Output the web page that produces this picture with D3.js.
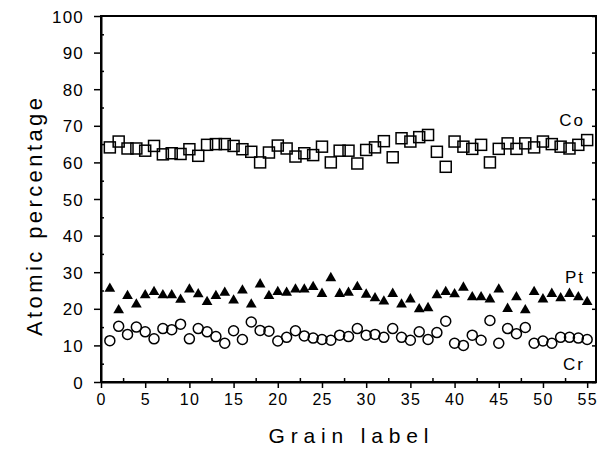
<!DOCTYPE html>
<html>
<head>
<meta charset="utf-8">
<script src="https://cdn.jsdelivr.net/npm/d3@7"></script>
<style>
  body { margin: 0; background: #fff; }
  svg { display: block; font-family: "Liberation Sans", Arial, sans-serif; }
</style>
</head>
<body>
<svg id="chart" width="608" height="451"></svg>
<script>
// grain labels 1..55
var grains = d3.range(1, 56);

// atomic percentages
var co = [64.1, 65.7, 63.8, 63.8, 63.2, 64.5, 62.2, 62.5, 62.3, 63.6,
          61.8, 64.8, 65.0, 65.0, 64.5, 63.6, 62.9, 60.0, 62.7, 64.6,
          63.8, 61.6, 62.5, 62.0, 64.3, 60.0, 63.2, 63.2, 59.7, 63.4,
          64.1, 65.8, 61.4, 66.6, 65.7, 66.9, 67.5, 62.9, 58.8, 65.7,
          64.3, 63.7, 64.8, 60.0, 63.7, 65.2, 63.7, 65.2, 64.1, 65.7,
          65.0, 64.3, 63.8, 64.8, 66.1];
var pt = [25.5, 19.6, 23.5, 21.2, 23.7, 24.6, 23.7, 23.7, 22.5, 25.3,
          24.0, 21.9, 23.5, 24.4, 22.3, 25.0, 21.2, 26.7, 23.5, 24.6,
          24.4, 25.3, 25.3, 26.0, 24.1, 28.4, 24.1, 24.4, 26.0, 23.9,
          22.9, 22.0, 24.1, 21.2, 22.6, 19.9, 20.2, 23.7, 24.6, 24.0,
          25.8, 23.2, 23.2, 22.6, 25.3, 20.0, 23.2, 19.6, 24.6, 22.6,
          24.1, 22.9, 24.1, 23.2, 21.9];
var cr = [11.3, 15.2, 13.0, 15.0, 13.7, 11.8, 14.6, 14.3, 15.8, 11.8,
          14.6, 13.7, 12.4, 10.6, 14.0, 11.6, 16.4, 14.1, 13.9, 11.2,
          12.2, 14.0, 12.6, 12.0, 11.6, 11.4, 12.8, 12.4, 14.6, 12.8,
          13.0, 12.2, 14.6, 12.2, 11.4, 13.7, 11.6, 13.5, 16.6, 10.6,
          10.0, 12.8, 11.4, 16.8, 10.6, 14.6, 13.2, 14.9, 10.6, 11.2,
          10.6, 12.2, 12.2, 12.0, 11.6];

var xTicks = d3.range(0, 56, 5);
var yTicks = d3.range(0, 101, 10);

var svg = d3.select("#chart");
var margin = { top: 16, right: 12, bottom: 69, left: 101 };
var width = 608 - margin.left - margin.right,
    height = 451 - margin.top - margin.bottom;

var x = d3.scaleLinear().domain([0, 56]).range([0, width]);
var y = d3.scaleLinear().domain([0, 100]).range([height, 0]);

var g = svg.append("g")
    .attr("transform", `translate(${margin.left},${margin.top})`);

// minor ticks (inside)
g.append("g")
    .attr("transform", `translate(0,${height})`)
    .call(d3.axisTop(x).tickValues(d3.range(2.5, 56, 5)).tickSize(4).tickFormat(""))
    .call(a => a.select(".domain").remove())
    .selectAll("line").attr("stroke-width", 1.5);
g.append("g")
    .call(d3.axisRight(y).tickValues(d3.range(5, 100, 10)).tickSize(3).tickFormat(""))
    .call(a => a.select(".domain").remove())
    .selectAll("line").attr("stroke-width", 1.5);

// bottom axis
var xAxis = g.append("g")
    .attr("transform", `translate(0,${height})`)
    .call(d3.axisBottom(x).tickValues(xTicks).tickSize(6).tickSizeOuter(0).tickPadding(6));
xAxis.selectAll("text")
    .attr("font-size", 16)
    .attr("letter-spacing", 1.2)
    .attr("fill", "#000");

// left axis
var yAxis = g.append("g")
    .call(d3.axisLeft(y).tickValues(yTicks).tickSize(7).tickSizeOuter(0).tickPadding(10));
yAxis.selectAll("text")
    .attr("font-size", 17)
    .attr("letter-spacing", 1.2)
    .attr("dy", "0.36em")
    .attr("fill", "#000");

g.selectAll(".domain").attr("stroke-width", 2);
g.selectAll(".tick line").attr("stroke-width", 1.5);

// right axis ticks (inside)
g.append("g")
    .attr("transform", `translate(${width},0)`)
    .call(d3.axisLeft(y).tickValues(yTicks).tickSize(4).tickFormat(""))
    .call(a => a.select(".domain").remove())
    .selectAll("line").attr("stroke-width", 1.5);

// frame
g.append("rect")
    .attr("width", width)
    .attr("height", height)
    .attr("fill", "none")
    .attr("stroke", "#000")
    .attr("stroke-width", 2);

// Co - open squares
g.append("g").selectAll("rect")
    .data(co)
    .join("rect")
    .attr("x", (d, i) => x(grains[i]) - 5.5)
    .attr("y", d => y(d) - 5.5)
    .attr("width", 11)
    .attr("height", 11)
    .attr("fill", "none")
    .attr("stroke", "#000")
    .attr("stroke-width", 1.5);

// Pt - filled triangles
var tri = d3.symbol().type(d3.symbolTriangle).size(50);
g.append("g").selectAll("path")
    .data(pt)
    .join("path")
    .attr("d", tri)
    .attr("transform", (d, i) => `translate(${x(grains[i])},${y(d)})`)
    .attr("fill", "#000");

// Cr - open circles
g.append("g").selectAll("circle")
    .data(cr)
    .join("circle")
    .attr("cx", (d, i) => x(grains[i]))
    .attr("cy", d => y(d))
    .attr("r", 5)
    .attr("fill", "none")
    .attr("stroke", "#000")
    .attr("stroke-width", 1.5);

// series labels
var labels = [["Co", 70], ["Pt", 27], ["Cr", 3.2]];
g.selectAll(".series-label")
    .data(labels)
    .join("text")
    .attr("class", "series-label")
    .attr("x", width - 11)
    .attr("y", d => y(d[1]))
    .attr("text-anchor", "end")
    .attr("font-size", 17)
    .attr("letter-spacing", 2)
    .text(d => d[0]);

// axis titles
svg.append("text")
    .attr("x", margin.left + width / 2)
    .attr("y", 443)
    .attr("text-anchor", "middle")
    .attr("font-size", 21)
    .attr("textLength", 160)
    .attr("lengthAdjust", "spacing")
    .text("Grain label");

svg.append("text")
    .attr("transform", `translate(42,${217}) rotate(-90)`)
    .attr("text-anchor", "middle")
    .attr("font-size", 22)
    .attr("textLength", 238)
    .attr("lengthAdjust", "spacing")
    .text("Atomic percentage");
</script>
</body>
</html>
